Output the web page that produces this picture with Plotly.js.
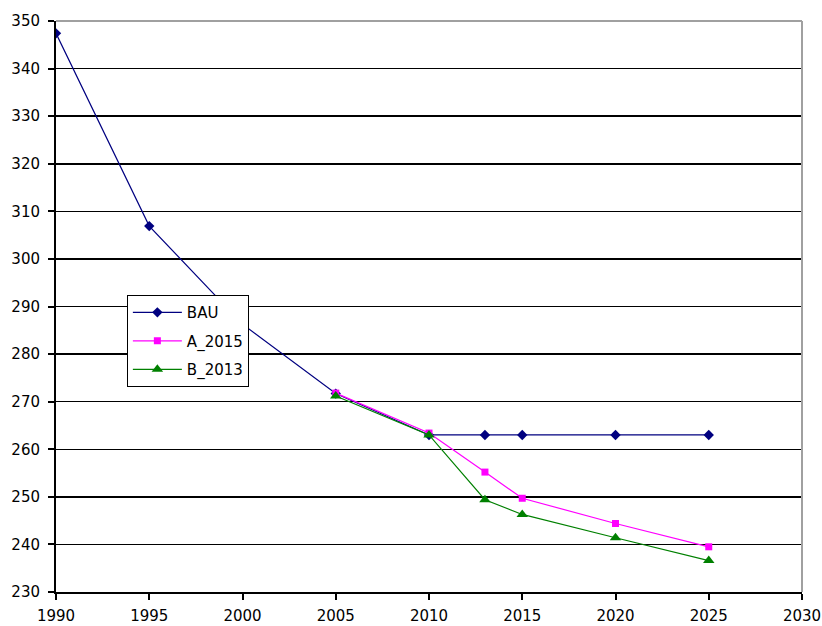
<!DOCTYPE html>
<html>
<head>
<meta charset="utf-8">
<script src="https://cdn.plot.ly/plotly-3.0.1.min.js"></script>
<style>html,body{margin:0;padding:0;background:#fff;}#chart{width:822px;height:626px;}</style>
</head>
<body>
<div id="chart"></div>
<script>
const bauYears = [1990, 1995, 2000, 2005, 2010, 2013, 2015, 2020, 2025];
const bauValues = [347.4, 306.9, 286.3, 271.7, 263.0, 263.0, 263.0, 263.0, 263.0];
const aYears = [2005, 2010, 2013, 2015, 2020, 2025];
const aValues = [271.8, 263.4, 255.2, 249.7, 244.4, 239.5];
const bYears = [2005, 2010, 2013, 2015, 2020, 2025];
const bValues = [271.2, 263.0, 249.4, 246.3, 241.4, 236.6];

const traces = [
  {x: bauYears, y: bauValues, name: 'BAU', legendgroup: 'g1', mode: 'lines+markers',
   line: {color: '#000080', width: 1.2}, marker: {symbol: 'diamond', size: 8, color: '#000080'}},
  {x: aYears, y: aValues, name: 'A_2015', legendgroup: 'g2', mode: 'lines+markers',
   line: {color: '#FF00FF', width: 1.2}, marker: {symbol: 'square', size: 7, color: '#FF00FF'}},
  {x: bYears, y: bValues, name: 'B_2013', legendgroup: 'g3', mode: 'lines+markers',
   line: {color: '#008000', width: 1.2}, marker: {symbol: 'triangle-up', size: 10, color: '#008000'}}
];

const layout = {
  width: 822, height: 626,
  margin: {l: 56, r: 20, t: 21, b: 34},
  paper_bgcolor: '#fff', plot_bgcolor: '#fff',
  font: {family: 'DejaVu Sans, Verdana, sans-serif', size: 15, color: '#000'},
  showlegend: true,
  legend: {x: 0.095, y: 0.52, xanchor: 'left', yanchor: 'top',
    bgcolor: '#fff', bordercolor: '#000', borderwidth: 1,
    font: {size: 15, color: '#000'}, tracegroupgap: 6, itemwidth: 49},
  xaxis: {range: [1990, 2030], dtick: 5, tick0: 1990, showgrid: false, zeroline: false,
    showline: true, linecolor: '#000', linewidth: 2, ticks: 'outside', ticklen: 6,
    tickcolor: '#000', tickwidth: 2, ticklabelstandoff: 3, tickfont: {size: 15, color: '#000'}},
  yaxis: {range: [230, 350], dtick: 10, tick0: 230, showgrid: true, gridcolor: '#000', gridwidth: 1.5,
    zeroline: false, showline: true, linecolor: '#000', linewidth: 2, ticks: 'outside', ticklen: 6,
    tickcolor: '#000', tickwidth: 2, ticklabelstandoff: 5, tickfont: {size: 15, color: '#000'}},
  shapes: [
    {type: 'line', xref: 'paper', yref: 'paper', x0: 0, x1: 1, y0: 1, y1: 1,
     line: {color: '#a0a0a0', width: 2}, layer: 'above'},
    {type: 'line', xref: 'paper', yref: 'paper', x0: 1, x1: 1, y0: 0, y1: 1,
     line: {color: '#a0a0a0', width: 2}, layer: 'above'}
  ]
};

Plotly.newPlot('chart', traces, layout, {displayModeBar: false, staticPlot: true});
</script>
</body>
</html>
